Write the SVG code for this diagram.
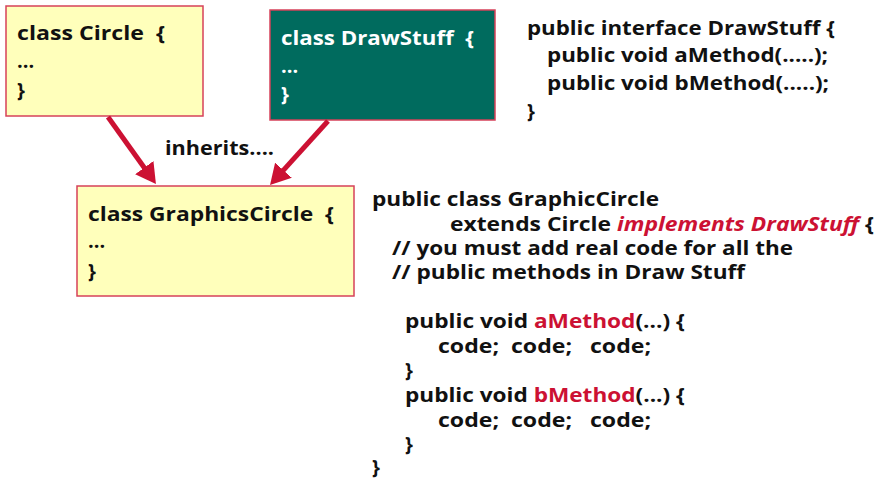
<svg xmlns="http://www.w3.org/2000/svg" width="876" height="479" viewBox="0 0 876 479" xml:space="preserve">
<style>
text{font-family:"Open Sans",Lato,"Liberation Sans",sans-serif;font-weight:bold;font-size:20px;fill:#111;white-space:pre}
.box{stroke:#d6425a;stroke-width:1.5}
.yel{fill:#ffffbb}
.grn{fill:#006b5e}
.w{fill:#fff}
.r{fill:#cc1133}
.conn{stroke:#cc1133;stroke-width:5;fill:none}
</style>
<defs>
<marker id="ah" markerWidth="4" markerHeight="4.5" refX="1" refY="2.25" orient="auto" markerUnits="strokeWidth">
<path d="M0,0 L4,2.25 L0,4.5 Z" fill="#cc1133"/>
</marker>
</defs>
<g id="circle">
<rect class="box yel" x="6" y="6" width="197" height="110"/>
<text x="17" y="40" textLength="148" lengthAdjust="spacingAndGlyphs">class Circle  {</text>
<text x="17" y="68">...</text>
<text x="17" y="97">}</text>
</g>
<g id="drawstuff">
<rect class="box grn" x="270" y="10" width="225" height="110"/>
<text class="w" x="281" y="45" textLength="193" lengthAdjust="spacingAndGlyphs">class DrawStuff  {</text>
<text class="w" x="281" y="73">...</text>
<text class="w" x="281" y="101">}</text>
</g>
<g id="graphicscircle">
<rect class="box yel" x="77" y="186" width="277" height="110"/>
<text x="88" y="221" textLength="246" lengthAdjust="spacingAndGlyphs">class GraphicsCircle  {</text>
<text x="88" y="248">...</text>
<text x="88" y="278">}</text>
</g>
<g id="connectors">
<line class="conn" x1="108" y1="117" x2="147.2" y2="171.7" marker-end="url(#ah)"/>
<line class="conn" x1="328" y1="121" x2="280.1" y2="173.9" marker-end="url(#ah)"/>
<text x="165" y="155" textLength="109" lengthAdjust="spacingAndGlyphs">inherits....</text>
</g>
<g id="interface">
<text x="527" y="35" textLength="308" lengthAdjust="spacingAndGlyphs">public interface DrawStuff {</text>
<text x="547" y="62" textLength="281" lengthAdjust="spacingAndGlyphs">public void aMethod(.....);</text>
<text x="547" y="90" textLength="282" lengthAdjust="spacingAndGlyphs">public void bMethod(.....);</text>
<text x="527" y="118">}</text>
</g>
<g id="code">
<text x="372" y="206" textLength="287" lengthAdjust="spacingAndGlyphs">public class GraphicCircle</text>
<text x="450" y="231" textLength="424" lengthAdjust="spacingAndGlyphs">extends Circle <tspan class="r" font-style="italic">implements DrawStuff</tspan> {</text>
<text x="392" y="255" textLength="401" lengthAdjust="spacingAndGlyphs">// you must add real code for all the</text>
<text x="392" y="279" textLength="353" lengthAdjust="spacingAndGlyphs">// public methods in Draw Stuff</text>
<text x="405" y="328" textLength="280" lengthAdjust="spacingAndGlyphs">public void <tspan class="r">aMethod</tspan>(...) {</text>
<text x="438" y="353" textLength="213" lengthAdjust="spacingAndGlyphs">code;  code;   code;</text>
<text x="405" y="377">}</text>
<text x="405" y="402" textLength="280" lengthAdjust="spacingAndGlyphs">public void <tspan class="r">bMethod</tspan>(...) {</text>
<text x="438" y="427" textLength="213" lengthAdjust="spacingAndGlyphs">code;  code;   code;</text>
<text x="405" y="451">}</text>
<text x="372" y="474">}</text>
</g>
</svg>
